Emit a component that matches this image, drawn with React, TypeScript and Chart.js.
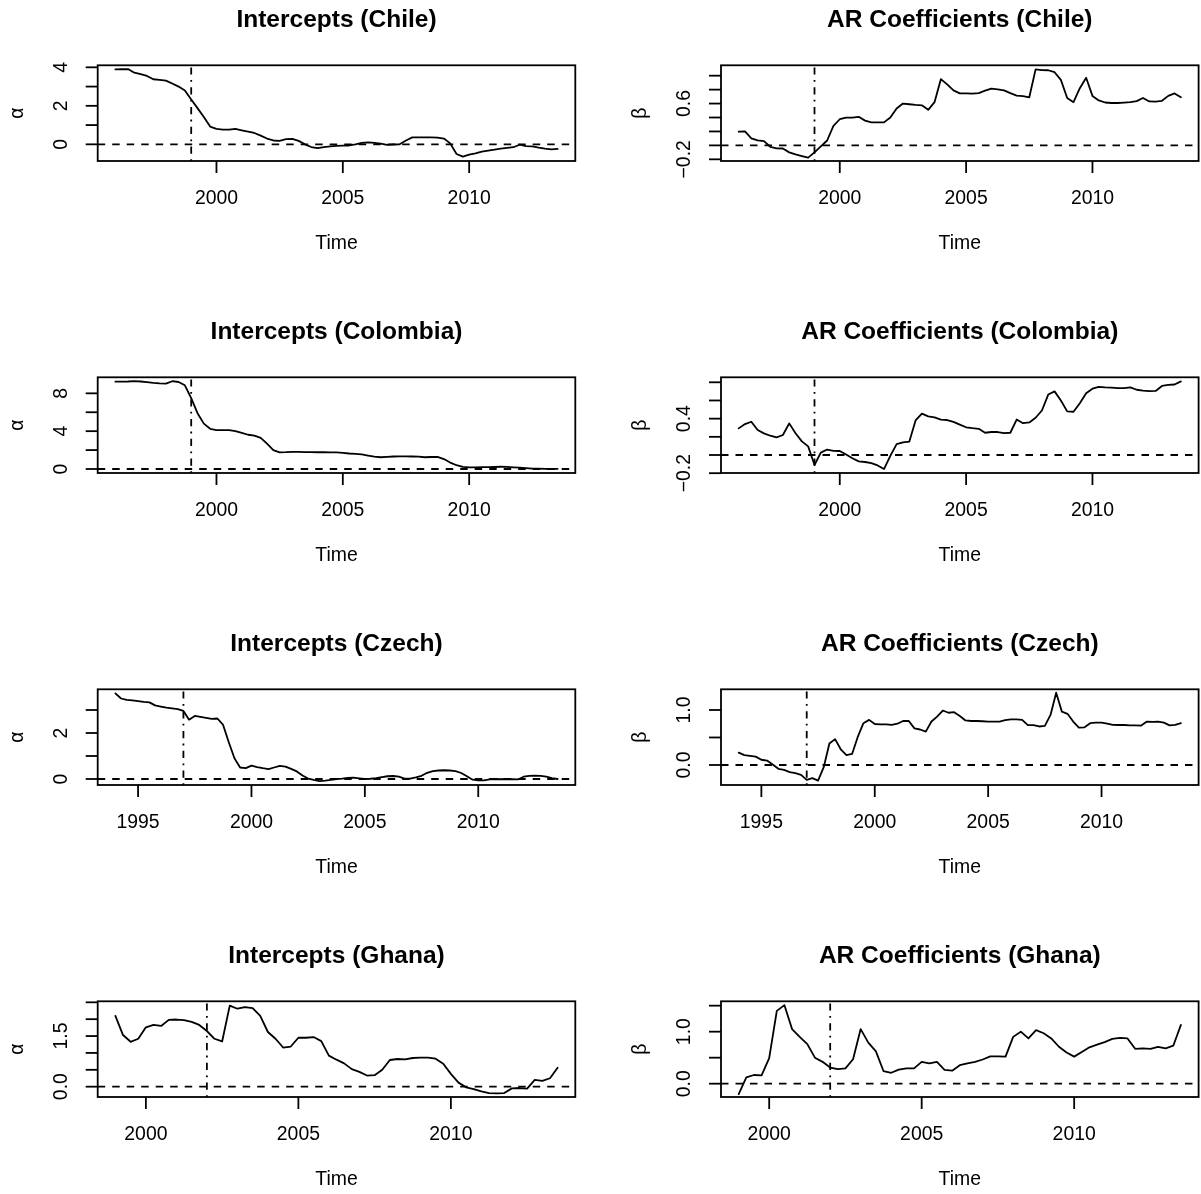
import React, { useEffect, useRef } from 'react';
import { Chart, registerables } from 'chart.js';

Chart.register(...registerables);

// ---------- DATA (quarterly time series) ----------
const chileStart = 1996;
const colombiaStart = 1996;
const czechStart = 1994;
const ghanaStart = 1999;

const chileBreak = 1999;
const colombiaBreak = 1999;
const czechBreak = 1997;
const ghanaBreak = 2002;

const chileIntercepts = [
  3.89, 3.90, 3.91, 3.72, 3.65, 3.55, 3.38, 3.35, 3.31, 3.16,
  3.00, 2.80, 2.33, 1.88, 1.42, 0.92, 0.80, 0.76, 0.76, 0.80,
  0.73, 0.66, 0.59, 0.45, 0.30, 0.20, 0.18, 0.27, 0.28, 0.18,
  0.00, -0.14, -0.20, -0.15, -0.11, -0.08, -0.07, -0.06, 0.00, 0.08,
  0.10, 0.08, 0.04, -0.03, -0.01, 0.00, 0.20, 0.36, 0.36, 0.36,
  0.36, 0.35, 0.30, 0.05, -0.50, -0.64, -0.54, -0.47, -0.38, -0.33,
  -0.28, -0.22, -0.18, -0.15, -0.02, -0.09, -0.11, -0.17, -0.22, -0.26,
  -0.24,
];

const chileAR = [
  0.196, 0.20, 0.10, 0.072, 0.062, -0.02, -0.043, -0.045, -0.10, -0.13,
  -0.153, -0.175, -0.10, -0.015, 0.07, 0.28, 0.375, 0.397, 0.397, 0.41,
  0.355, 0.33, 0.33, 0.33, 0.40, 0.53, 0.60, 0.59, 0.58, 0.575,
  0.51, 0.62, 0.95, 0.875, 0.79, 0.746, 0.746, 0.744, 0.75, 0.785,
  0.815, 0.805, 0.79, 0.75, 0.715, 0.708, 0.69, 1.09, 1.08, 1.078,
  1.05, 0.94, 0.68, 0.62, 0.82, 0.97, 0.71, 0.645, 0.615, 0.608,
  0.608, 0.614, 0.622, 0.635, 0.68, 0.63, 0.627, 0.64, 0.71, 0.745,
  0.69,
];

const colombiaIntercepts = [
  9.23, 9.23, 9.25, 9.30, 9.25, 9.18, 9.10, 9.05, 9.02, 9.28,
  9.20, 8.85, 7.50, 5.90, 4.80, 4.25, 4.12, 4.12, 4.10, 4.00,
  3.82, 3.62, 3.52, 3.30, 2.68, 2.00, 1.76, 1.78, 1.82, 1.80,
  1.78, 1.78, 1.77, 1.77, 1.76, 1.75, 1.70, 1.64, 1.60, 1.55,
  1.42, 1.30, 1.24, 1.28, 1.32, 1.34, 1.33, 1.32, 1.30, 1.24,
  1.27, 1.28, 1.05, 0.68, 0.40, 0.22, 0.18, 0.18, 0.19, 0.19,
  0.21, 0.24, 0.22, 0.18, 0.15, 0.10, 0.05, 0.04, 0.01, 0.00,
  0.02,
];

const colombiaAR = [
  0.293, 0.34, 0.366, 0.275, 0.238, 0.212, 0.194, 0.22, 0.348, 0.24,
  0.15, 0.095, -0.11, 0.026, 0.06, 0.045, 0.044, 0.005, -0.035, -0.07,
  -0.077, -0.09, -0.115, -0.155, -0.01, 0.12, 0.14, 0.147, 0.38, 0.455,
  0.425, 0.415, 0.39, 0.385, 0.365, 0.335, 0.305, 0.295, 0.288, 0.245,
  0.253, 0.253, 0.24, 0.245, 0.39, 0.35, 0.358, 0.41, 0.49, 0.665,
  0.70, 0.60, 0.48, 0.476, 0.57, 0.68, 0.73, 0.75, 0.745, 0.742,
  0.735, 0.735, 0.745, 0.718, 0.708, 0.702, 0.705, 0.76, 0.772, 0.776,
  0.81,
];

const czechIntercepts = [
  3.72, 3.50, 3.44, 3.42, 3.39, 3.35, 3.33, 3.20, 3.15, 3.10,
  3.07, 3.04, 2.96, 2.58, 2.74, 2.70, 2.66, 2.61, 2.63, 2.35,
  1.60, 0.90, 0.50, 0.47, 0.58, 0.52, 0.47, 0.43, 0.50, 0.57,
  0.54, 0.44, 0.33, 0.15, 0.02, -0.04, -0.09, -0.07, -0.04, 0.00,
  0.02, 0.05, 0.06, 0.03, 0.00, 0.01, 0.04, 0.08, 0.12, 0.13,
  0.10, 0.02, 0.02, 0.07, 0.14, 0.27, 0.34, 0.37, 0.38, 0.37,
  0.34, 0.26, 0.12, -0.03, -0.06, -0.06, -0.02, 0.00, -0.01, 0.00,
  -0.01, -0.02, 0.10, 0.14, 0.145, 0.14, 0.10, 0.04, 0.00,
];

const czechAR = [
  0.224, 0.18, 0.165, 0.152, 0.095, 0.08, 0.01, -0.07, -0.09, -0.13,
  -0.15, -0.18, -0.27, -0.24, -0.285, -0.04, 0.39, 0.47, 0.285, 0.18,
  0.20, 0.51, 0.76, 0.82, 0.745, 0.74, 0.74, 0.73, 0.75, 0.80,
  0.80, 0.665, 0.645, 0.606, 0.79, 0.88, 0.99, 0.95, 0.96, 0.89,
  0.81, 0.80, 0.80, 0.795, 0.79, 0.79, 0.79, 0.815, 0.83, 0.83,
  0.82, 0.725, 0.725, 0.70, 0.71, 0.91, 1.315, 0.97, 0.93, 0.79,
  0.68, 0.685, 0.76, 0.77, 0.77, 0.75, 0.73, 0.727, 0.727, 0.72,
  0.72, 0.716, 0.79, 0.785, 0.79, 0.77, 0.72, 0.73, 0.76,
];

const ghanaIntercepts = [
  2.10, 1.53, 1.33, 1.42, 1.76, 1.83, 1.80, 1.98, 1.99, 1.97,
  1.92, 1.83, 1.65, 1.42, 1.34, 2.40, 2.31, 2.36, 2.33, 2.10,
  1.62, 1.42, 1.16, 1.19, 1.45, 1.45, 1.47, 1.35, 0.92, 0.80,
  0.69, 0.52, 0.44, 0.33, 0.34, 0.50, 0.79, 0.82, 0.81, 0.85,
  0.86, 0.86, 0.83, 0.68, 0.38, 0.12, -0.02, -0.07, -0.14, -0.19,
  -0.20, -0.19, -0.05, -0.04, -0.06, 0.20, 0.17, 0.25, 0.56,
];

const ghanaAR = [
  -0.20, 0.12, 0.167, 0.16, 0.49, 1.40, 1.51, 1.05, 0.90, 0.76,
  0.50, 0.42, 0.31, 0.28, 0.295, 0.47, 1.05, 0.79, 0.62, 0.24,
  0.21, 0.27, 0.295, 0.295, 0.42, 0.39, 0.42, 0.265, 0.25, 0.355,
  0.39, 0.42, 0.465, 0.525, 0.525, 0.52, 0.90, 1.00, 0.87, 1.03,
  0.97, 0.87, 0.71, 0.60, 0.52, 0.61, 0.70, 0.75, 0.80, 0.86,
  0.88, 0.87, 0.67, 0.68, 0.67, 0.71, 0.68, 0.73, 1.13,
];

// ---------- AXES ----------
const xTicksChile = [2000, 2005, 2010];
const xTicksColombia = [2000, 2005, 2010];
const xTicksCzech = [1995, 2000, 2005, 2010];
const xTicksGhana = [2000, 2005, 2010];

const chileInterceptLimits = [-0.866, 4.105];
const chileARLimits = [-0.224, 1.149];
const colombiaInterceptLimits = [-0.423, 9.695];
const colombiaARLimits = [-0.198, 0.855];
const czechInterceptLimits = [-0.261, 3.9];
const czechARLimits = [-0.364, 1.376];
const ghanaInterceptLimits = [-0.306, 2.53];
const ghanaARLimits = [-0.256, 1.584];

const chileInterceptTicks = [0, 1, 2, 3, 4];
const chileInterceptLabelAt = [0, 2, 4];
const chileInterceptLabels = ['0', '2', '4'];
const chileARTicks = [-0.2, 0, 0.2, 0.4, 0.6, 0.8, 1.0];
const chileARLabelAt = [-0.2, 0.6];
const chileARLabels = ['\u22120.2', '0.6'];

const colombiaInterceptTicks = [0, 2, 4, 6, 8];
const colombiaInterceptLabelAt = [0, 4, 8];
const colombiaInterceptLabels = ['0', '4', '8'];
const colombiaARTicks = [-0.2, 0, 0.2, 0.4, 0.6, 0.8];
const colombiaARLabelAt = [-0.2, 0.4];
const colombiaARLabels = ['\u22120.2', '0.4'];

const czechInterceptTicks = [0, 1, 2, 3];
const czechInterceptLabelAt = [0, 2];
const czechInterceptLabels = ['0', '2'];
const czechARTicks = [0, 0.5, 1.0];
const czechARLabelAt = [0, 1.0];
const czechARLabels = ['0.0', '1.0'];

const ghanaInterceptTicks = [0, 0.5, 1.0, 1.5, 2.0, 2.5];
const ghanaInterceptLabelAt = [0, 1.5];
const ghanaInterceptLabels = ['0.0', '1.5'];
const ghanaARTicks = [0, 0.5, 1.0, 1.5];
const ghanaARLabelAt = [0, 1.0];
const ghanaARLabels = ['0.0', '1.0'];

type PanelDef = {
  title: string; ylab: string; start: number; values: number[]; brk: number;
  xTicks: number[]; ylim: number[]; yTicks: number[]; yLabelAt: number[]; yLabels: string[];
};

const PANELS: PanelDef[] = [
  { title: 'Intercepts (Chile)', ylab: '\u03b1', start: chileStart, values: chileIntercepts, brk: chileBreak, xTicks: xTicksChile, ylim: chileInterceptLimits, yTicks: chileInterceptTicks, yLabelAt: chileInterceptLabelAt, yLabels: chileInterceptLabels },
  { title: 'AR Coefficients (Chile)', ylab: '\u03b2', start: chileStart, values: chileAR, brk: chileBreak, xTicks: xTicksChile, ylim: chileARLimits, yTicks: chileARTicks, yLabelAt: chileARLabelAt, yLabels: chileARLabels },
  { title: 'Intercepts (Colombia)', ylab: '\u03b1', start: colombiaStart, values: colombiaIntercepts, brk: colombiaBreak, xTicks: xTicksColombia, ylim: colombiaInterceptLimits, yTicks: colombiaInterceptTicks, yLabelAt: colombiaInterceptLabelAt, yLabels: colombiaInterceptLabels },
  { title: 'AR Coefficients (Colombia)', ylab: '\u03b2', start: colombiaStart, values: colombiaAR, brk: colombiaBreak, xTicks: xTicksColombia, ylim: colombiaARLimits, yTicks: colombiaARTicks, yLabelAt: colombiaARLabelAt, yLabels: colombiaARLabels },
  { title: 'Intercepts (Czech)', ylab: '\u03b1', start: czechStart, values: czechIntercepts, brk: czechBreak, xTicks: xTicksCzech, ylim: czechInterceptLimits, yTicks: czechInterceptTicks, yLabelAt: czechInterceptLabelAt, yLabels: czechInterceptLabels },
  { title: 'AR Coefficients (Czech)', ylab: '\u03b2', start: czechStart, values: czechAR, brk: czechBreak, xTicks: xTicksCzech, ylim: czechARLimits, yTicks: czechARTicks, yLabelAt: czechARLabelAt, yLabels: czechARLabels },
  { title: 'Intercepts (Ghana)', ylab: '\u03b1', start: ghanaStart, values: ghanaIntercepts, brk: ghanaBreak, xTicks: xTicksGhana, ylim: ghanaInterceptLimits, yTicks: ghanaInterceptTicks, yLabelAt: ghanaInterceptLabelAt, yLabels: ghanaInterceptLabels },
  { title: 'AR Coefficients (Ghana)', ylab: '\u03b2', start: ghanaStart, values: ghanaAR, brk: ghanaBreak, xTicks: xTicksGhana, ylim: ghanaARLimits, yTicks: ghanaARTicks, yLabelAt: ghanaARLabelAt, yLabels: ghanaARLabels },
];

// ---------- LAYOUT / STYLE ----------
const FONT = '"Liberation Sans", Arial, Helvetica, sans-serif';
const AXIS_PX = 19.4;
const TITLE_PX = 24.5;
const LW = 1.8;
const TICK = 12;
const COL_X = [0, 600];
const COL_W = [600, 601];
const ROW_Y = [0, 312, 624, 936];
const ROW_H = [312, 312, 312, 258];
const BOX_LEFT = [97.7, 721];
const BOX_RIGHT = [575.3, 1198.6];
const BOX_TOP = 65.3;
const BOX_BOTTOM = 161;

function makeRPlugin(p: PanelDef) {
  return {
    id: 'rbase',
    afterDraw(chart: any) {
      const { ctx, chartArea: a } = chart;
      const xs = chart.scales.x;
      const ys = chart.scales.y;
      const seg = (x1: number, y1: number, x2: number, y2: number) => {
        ctx.beginPath(); ctx.moveTo(x1, y1); ctx.lineTo(x2, y2); ctx.stroke();
      };
      ctx.save();
      ctx.strokeStyle = '#000';
      ctx.fillStyle = '#000';
      ctx.lineWidth = LW;
      ctx.setLineDash([]);
      ctx.lineCap = 'butt';
      ctx.strokeRect(a.left, a.top, a.right - a.left, a.bottom - a.top);

      ctx.font = `${AXIS_PX}px ${FONT}`;
      ctx.textAlign = 'center';
      ctx.textBaseline = 'middle';
      p.xTicks.forEach((v) => {
        const x = xs.getPixelForValue(v);
        seg(x, a.bottom, x, a.bottom + TICK);
        ctx.fillText(String(v), x, a.bottom + 38);
      });
      p.yTicks.forEach((v) => {
        const y = ys.getPixelForValue(v);
        seg(a.left - TICK, y, a.left, y);
      });
      p.yLabelAt.forEach((v, k) => {
        const y = ys.getPixelForValue(v);
        ctx.save();
        ctx.translate(a.left - 36, y);
        ctx.rotate(-Math.PI / 2);
        ctx.fillText(p.yLabels[k], 0, 0);
        ctx.restore();
      });
      ctx.fillText('Time', (a.left + a.right) / 2, a.bottom + 83);
      ctx.save();
      ctx.translate(a.left - 80, (a.top + a.bottom) / 2);
      ctx.rotate(-Math.PI / 2);
      ctx.fillText(p.ylab, 0, 0);
      ctx.restore();
      ctx.font = `bold ${TITLE_PX}px ${FONT}`;
      ctx.fillText(p.title, (a.left + a.right) / 2, a.top - 45);
      ctx.restore();
    },
  };
}

export default function App() {
  const refs = useRef<(HTMLCanvasElement | null)[]>([]);

  useEffect(() => {
    const charts = PANELS.map((p, i) => {
      const col = i % 2;
      const row = Math.floor(i / 2);
      const canvas = refs.current[i] as HTMLCanvasElement;
      const n = p.values.length;
      const end = p.start + (n - 1) / 4;
      const ext = 0.04 * (end - p.start);
      const xmin = p.start - ext;
      const xmax = end + ext;
      const series = p.values.map((v, k) => ({ x: p.start + k / 4, y: v }));
      const top = BOX_TOP + 312 * row - ROW_Y[row];
      const bottom = ROW_Y[row] + ROW_H[row] - (BOX_BOTTOM + 312 * row);
      const left = BOX_LEFT[col] - COL_X[col];
      const right = COL_X[col] + COL_W[col] - BOX_RIGHT[col];
      return new Chart(canvas, {
        type: 'line',
        data: {
          datasets: [
            { data: series, borderColor: '#000', borderWidth: LW, pointRadius: 0, tension: 0, fill: false, borderJoinStyle: 'round', borderCapStyle: 'round' } as any,
            { data: [{ x: xmin, y: 0 }, { x: xmax, y: 0 }], borderColor: '#000', borderWidth: LW, borderDash: [7.5, 7], pointRadius: 0, fill: false } as any,
            { data: [{ x: p.brk, y: p.ylim[0] }, { x: p.brk, y: p.ylim[1] }], borderColor: '#000', borderWidth: LW, borderDash: [1.8, 5.4, 7.2, 5.4], pointRadius: 0, fill: false } as any,
          ],
        },
        options: {
          responsive: false,
          animation: false,
          devicePixelRatio: 1,
          events: [],
          layout: { padding: { left, right, top, bottom } },
          scales: {
            x: { type: 'linear', display: false, min: xmin, max: xmax, bounds: 'data' },
            y: { type: 'linear', display: false, min: p.ylim[0], max: p.ylim[1], bounds: 'data' },
          },
          plugins: { legend: { display: false }, tooltip: { enabled: false }, title: { display: false } },
        } as any,
        plugins: [makeRPlugin(p)],
      });
    });
    return () => charts.forEach((c) => c.destroy());
  }, []);

  return (
    <div style={{ position: 'absolute', left: 0, top: 0, width: 1201, height: 1194, overflow: 'hidden', background: '#fff' }}>
      {PANELS.map((p, i) => {
        const col = i % 2;
        const row = Math.floor(i / 2);
        return (
          <canvas
            key={i}
            ref={(el) => { refs.current[i] = el; }}
            width={COL_W[col]}
            height={ROW_H[row]}
            style={{ position: 'absolute', left: COL_X[col], top: ROW_Y[row], width: COL_W[col], height: ROW_H[row] }}
          />
        );
      })}
    </div>
  );
}
